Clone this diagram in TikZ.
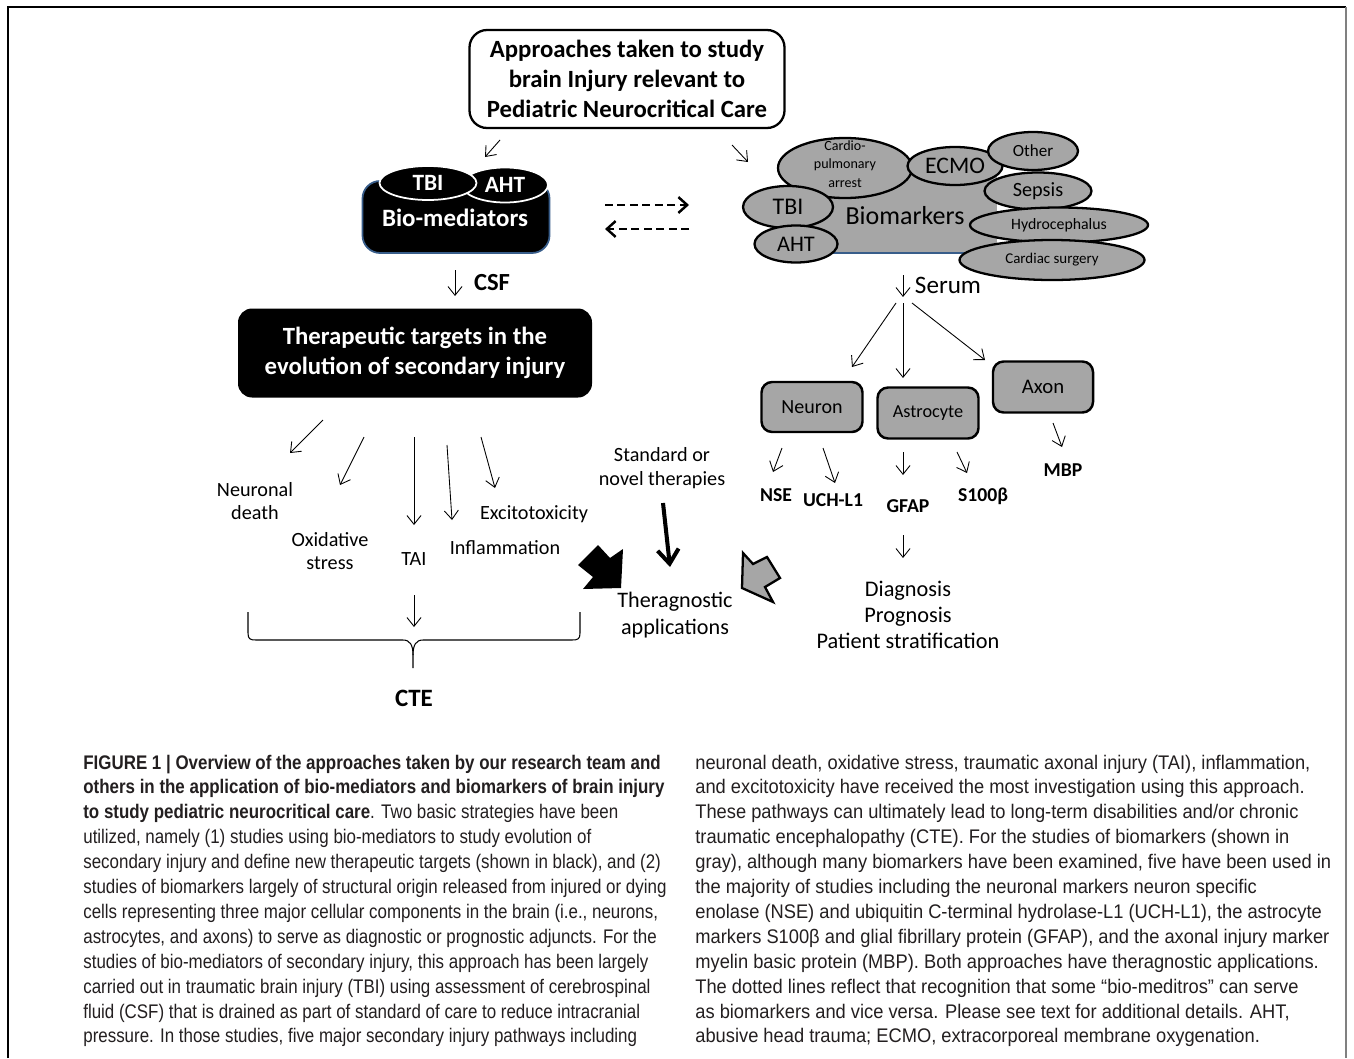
\documentclass[tikz,border=0pt]{standalone}
\usepackage{fontspec}
\setmainfont{Carlito}
\newfontfamily\capfont[FakeStretch=0.86]{Liberation Sans}
\newfontfamily\capfontr[FakeStretch=0.93]{Liberation Sans}
\usetikzlibrary{shapes.geometric,arrows.meta,positioning,calc}
\definecolor{cellgray}{RGB}{166,166,166}
\definecolor{edgeblue}{RGB}{56,93,138}
\definecolor{captext}{RGB}{35,31,32}

\begin{document}
\begin{tikzpicture}[x=0.02cm,y=-0.02cm,
  sz/.style 2 args={minimum width=#1*0.02cm,minimum height=#2*0.02cm},
  arr/.style={-{Straight Barb[length=5pt,width=8pt]},line width=0.5pt},
  blkbox/.style={rectangle,fill=black,text=white,rounded corners=8pt,align=center},
  gbox/.style={rectangle,fill=cellgray,draw=black,line width=1.4pt,rounded corners=6pt},
  gell/.style={ellipse,fill=cellgray,draw=black,line width=1.3pt,inner sep=0pt},
  lbl/.style={align=center,inner sep=1pt}]
  \useasboundingbox (0,0) rectangle (1354,1058);
  \fill[white] (0,0) rectangle (1354,1058);
  \draw[line width=1.1pt] (8,1058) -- (8,7) -- (1346,7);
  \draw[gray,line width=1pt] (1346,7) -- (1346,1058);

  \node[draw,line width=1.3pt,rounded corners=10pt,sz={315}{98},align=center,
    font=\fontsize{14.1}{17}\selectfont\bfseries] (appr) at (627,79)
    {Approaches taken to study\\brain Injury relevant to\\Pediatric Neurocritical Care};
  \coordinate (a1) at (500,140); \coordinate (a2) at (485,157);
  \coordinate (b1) at (732,145); \coordinate (b2) at (748,162);
  \draw[arr] (a1) -- (a2);
  \draw[arr] (b1) -- (b2);

  \node[rectangle,fill=black,draw=edgeblue,line width=1pt,rounded corners=10pt,sz={187}{72}]
    (biomed) at (456,217) {};
  \node[ellipse,fill=black,draw=white,line width=1pt,sz={86}{35}] (baht) at (505,185) {};
  \node[ellipse,fill=black,draw=white,line width=1pt,sz={97}{34}] (btbi) at (428,183) {};
  \node[text=white,font=\fontsize{13.3}{15}\selectfont\bfseries] at (btbi) {TBI};
  \node[text=white,font=\fontsize{13.3}{15}\selectfont\bfseries] at (baht) {AHT};
  \node[text=white,font=\fontsize{14.2}{16}\selectfont\bfseries] (biolab) at (455,218) {Bio-mediators};

  \coordinate (d1) at (605,205); \coordinate (d2) at (689,205);
  \coordinate (d3) at (689,229); \coordinate (d4) at (605,229);
  \draw[-{Straight Barb[length=5pt,width=9pt]},line width=1.4pt,dash pattern=on 4.5pt off 2.6pt] (d1) -- (d2);
  \draw[-{Straight Barb[length=5pt,width=9pt]},line width=1.4pt,dash pattern=on 4.5pt off 2.6pt] (d3) -- (d4);

  \coordinate (c1) at (455,270); \coordinate (c2) at (455,296);
  \draw[arr] (c1) -- (c2);
  \node[font=\fontsize{14}{16}\selectfont\bfseries] (csf) at (492,283) {CSF};

  \node[blkbox,sz={354}{89},font=\fontsize{14.1}{17}\selectfont\bfseries] (ther) at (415,353)
    {Therapeutic targets in the\\evolution of secondary injury};

  \node[lbl,font=\fontsize{11.5}{13.5}\selectfont] (neud) at (255,501) {Neuronal\\death};
  \node[lbl,font=\fontsize{11.5}{13.5}\selectfont] (oxst) at (330,551) {Oxidative\\stress};
  \node[lbl,font=\fontsize{11.5}{13.5}\selectfont] (tai) at (414,559) {TAI};
  \node[lbl,font=\fontsize{11.5}{13.5}\selectfont] (infl) at (505,548) {Inflammation};
  \node[lbl,font=\fontsize{11.5}{13.5}\selectfont] (exci) at (534,514) {Excitotoxicity};
  \foreach \s/\e in {{323,420}/{290,453},{364,437}/{340,485},{414,437}/{414,525},
                     {447,445}/{452,520},{481,437}/{495,488},{414,595}/{414,627}}
    \draw[arr] (\s) -- (\e);

  \draw[line width=0.6pt] (248,612) -- (248,633) .. controls (248,639) and (250,640) .. (256,640)
    -- (403,640) .. controls (410,640) and (413,645) .. (413,655) -- (413,668);
  \draw[line width=0.6pt] (580,612) -- (580,633) .. controls (580,639) and (578,640) .. (572,640)
    -- (423,640) .. controls (416,640) and (413,645) .. (413,655);
  \node[font=\fontsize{14.2}{16}\selectfont\bfseries] (cte) at (414,698) {CTE};

  \node[rectangle,fill=cellgray,sz={210}{81}] (bmk) at (892,212) {};
  \draw[edgeblue,line width=1pt] (bmk.south west) -- (bmk.south east);
  \node[gell,sz={134}{60}] (cpa) at (845,168) {};
  \node[gell,sz={95}{38}] (ecmo) at (955,166) {};
  \node[gell,sz={90}{38}] (oth) at (1033,151) {};
  \node[gell,sz={107}{37}] (seps) at (1038,191) {};
  \node[gell,sz={178}{35}] (hyd) at (1059,225) {};
  \node[gell,sz={185}{40}] (csurg) at (1052,260) {};
  \node[gell,sz={90}{42}] (mtbi) at (788,207) {};
  \node[gell,sz={83}{37}] (maht) at (796,244) {};
  \node[align=center,font=\fontsize{8}{10.6}\selectfont] at (845,164) {Cardio-\\pulmonary\\arrest};
  \node[font=\fontsize{13.5}{15}\selectfont] at (ecmo) {ECMO};
  \node[font=\fontsize{9.7}{11}\selectfont] at (oth) {Other};
  \node[font=\fontsize{11.5}{13}\selectfont] at (seps) {Sepsis};
  \node[font=\fontsize{9}{11}\selectfont] at (hyd) {Hydrocephalus};
  \node[font=\fontsize{8.5}{10}\selectfont] at (csurg) {Cardiac surgery};
  \node[font=\fontsize{13.6}{15}\selectfont] at (mtbi) {TBI};
  \node[font=\fontsize{12.7}{14}\selectfont] at (maht) {AHT};
  \node[font=\fontsize{14.8}{16}\selectfont] (bmklab) at (905,216) {Biomarkers};

  \coordinate (s1) at (903,275); \coordinate (s2) at (903,297);
  \draw[arr] (s1) -- (s2);
  \node[font=\fontsize{14.3}{16}\selectfont] (serum) at (948,285) {Serum};

  \node[gbox,sz={101}{50},font=\fontsize{11.4}{13}\selectfont] (neuron) at (812,407) {Neuron};
  \node[gbox,sz={101}{51},font=\fontsize{10.4}{12}\selectfont] (astro) at (928,413) {Astrocyte};
  \node[gbox,sz={100}{51},font=\fontsize{11.8}{13}\selectfont] (axon) at (1043,387) {Axon};
  \foreach \s/\e in {{896,303}/{852,367},{903,303}/{903,378},{912,303}/{985,360},
                     {782,448}/{773,472},{823,448}/{835,483},{903,452}/{903,475},
                     {957,452}/{967,473},{1053,423}/{1062,447},{903,535}/{903,558}}
    \draw[arr] (\s) -- (\e);
  \node[font=\fontsize{11.2}{13}\selectfont\bfseries] (nse) at (776,495) {NSE};
  \node[font=\fontsize{11.2}{13}\selectfont\bfseries] (uch) at (833,500) {UCH-L1};
  \node[font=\fontsize{11.2}{13}\selectfont\bfseries] (gfap) at (908,506) {GFAP};
  \node[font=\fontsize{11.2}{13}\selectfont\bfseries] (s100) at (983,496) {S100β};
  \node[font=\fontsize{11.2}{13}\selectfont\bfseries] (mbp) at (1063,470) {MBP};
  \node[lbl,font=\fontsize{12.7}{14.7}\selectfont] (diag) at (908,615)
    {Diagnosis\\Prognosis\\Patient stratification};

  \node[lbl,font=\fontsize{11.5}{13.5}\selectfont] (stdth) at (662,468) {Standard or\\novel therapies};
  \coordinate (t1) at (663,503); \coordinate (t2) at (670,567);
  \draw[-{Straight Barb[length=8pt,width=12pt]},line width=2.3pt] (t1) -- (t2);
  \node[lbl,font=\fontsize{12.6}{15.3}\selectfont] (thera) at (675,615) {Theragnostic\\applications};

  \fill[black] (598,545) -- (610,558) -- (623,549) -- (621,588) -- (583,589) -- (593,577)
    -- (578,565) -- cycle;
  \draw[fill=cellgray,line width=1.3pt,line join=miter] (743,553) -- (753,564) -- (767,557)
    -- (780,578) -- (765,587) -- (773,602) -- (742,588) -- cycle;

  \foreach \t [count=\i] in {
    {\textbf{FIGURE 1 | Overview of the approaches taken by our research team and}},
    {\textbf{others in the application of bio-mediators and biomarkers of brain injury}},
    {\textbf{to study pediatric neurocritical care}. Two basic strategies have been},
    {utilized, namely (1) studies using bio-mediators to study evolution of},
    {secondary injury and define new therapeutic targets (shown in black), and (2)},
    {studies of biomarkers largely of structural origin released from injured or dying},
    {cells representing three major cellular components in the brain (i.e., neurons,},
    {astrocytes, and axons) to serve as diagnostic or prognostic adjuncts. For the},
    {studies of bio-mediators of secondary injury, this approach has been largely},
    {carried out in traumatic brain injury (TBI) using assessment of cerebrospinal},
    {fluid (CSF) that is drained as part of standard of care to reduce intracranial},
    {pressure. In those studies, five major secondary injury pathways including}}
    \node[anchor=base west,inner sep=0pt,text=captext,font=\capfont\fontsize{11.2}{13}\selectfont]
      at (83,{769+24.9*(\i-1)}) {\t};
  \foreach \t [count=\i] in {
    {neuronal death, oxidative stress, traumatic axonal injury (TAI), inflammation,},
    {and excitotoxicity have received the most investigation using this approach.},
    {These pathways can ultimately lead to long-term disabilities and/or chronic},
    {traumatic encephalopathy (CTE). For the studies of biomarkers (shown in},
    {gray), although many biomarkers have been examined, five have been used in},
    {the majority of studies including the neuronal markers neuron specific},
    {enolase (NSE) and ubiquitin C-terminal hydrolase-L1 (UCH-L1), the astrocyte},
    {markers S100β and glial fibrillary protein (GFAP), and the axonal injury marker},
    {myelin basic protein (MBP). Both approaches have theragnostic applications.},
    {The dotted lines reflect that recognition that some “bio-meditros” can serve},
    {as biomarkers and vice versa. Please see text for additional details. AHT,},
    {abusive head trauma; ECMO, extracorporeal membrane oxygenation.}}
    \node[anchor=base west,inner sep=0pt,text=captext,font=\capfontr\fontsize{11.2}{13}\selectfont]
      at (695,{769+24.9*(\i-1)}) {\t};
\end{tikzpicture}
\end{document}
